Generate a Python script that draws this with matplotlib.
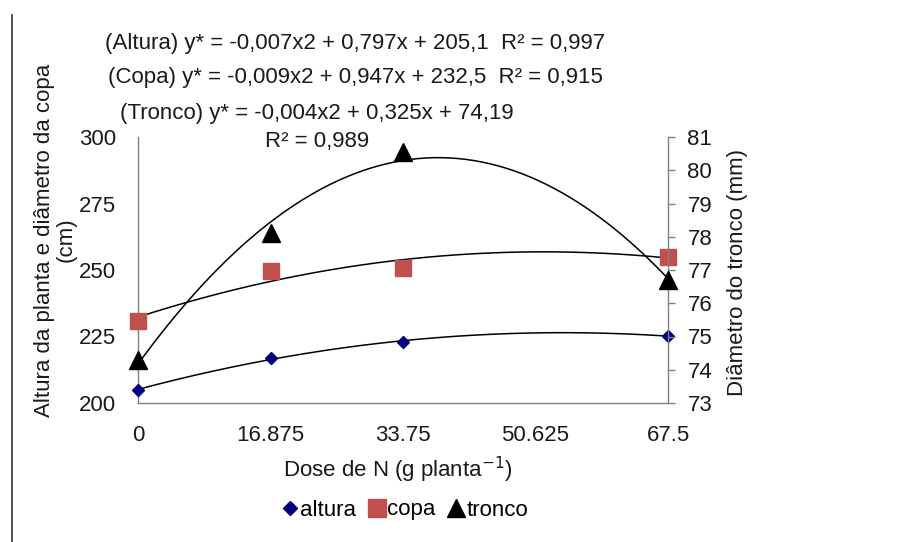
import numpy as np
import matplotlib
matplotlib.use("Agg")
import matplotlib.pyplot as plt
from matplotlib.lines import Line2D

plt.rcParams['font.family'] = ['Liberation Sans', 'DejaVu Sans']

doses = [0, 16.875, 33.75, 67.5]
xticks = [0, 16.875, 33.75, 50.625, 67.5]
xticklabels = ['0', '16.875', '33.75', '50.625', '67.5']
altura = [204.9, 216.9, 223.0, 225.2]
copa = [230.8, 249.7, 250.9, 255.0]
tronco = [74.3, 78.1, 80.55, 76.7]

eq_lines = ["(Altura) y* = -0,007x2 + 0,797x + 205,1  R² = 0,997",
            "(Copa) y* = -0,009x2 + 0,947x + 232,5  R² = 0,915",
            "(Tronco) y* = -0,004x2 + 0,325x + 74,19",
            "R² = 0,989"]

FS = 16
TC = '#1a1a1a'
W, H = 919, 542
fig = plt.figure(figsize=(W/100, H/100), dpi=100)
ax = fig.add_axes([138/W, 1-403/H, 530/W, 266/H])
ax2 = ax.twinx()

xs = np.linspace(0, 67.5, 200)
for vals in (altura, copa):
    c = np.polyfit(doses, vals, 2)
    ax.plot(xs, np.polyval(c, xs), color='black', lw=1.1, zorder=2)
c = np.polyfit(doses, tronco, 2)
ax2.plot(xs, np.polyval(c, xs), color='black', lw=1.1, zorder=2)

ax.plot(doses, altura, 'D', color='#000080', ms=6.5, mec='#000080', zorder=3, clip_on=False)
ax.plot(doses, copa, 's', color='#C0504D', ms=12, mec='#C0504D', zorder=3, clip_on=False)
ax2.plot(doses, tronco, '^', color='black', ms=13, zorder=3, clip_on=False)

ax.set_xlim(0, 67.5)
ax.set_ylim(200, 300)
ax2.set_ylim(73, 81)
ax.set_xticks(xticks)
ax.set_xticklabels(xticklabels)
ax.set_yticks([200, 225, 250, 275, 300])
ax2.set_yticks(range(73, 82))

for a in (ax, ax2):
    a.spines['top'].set_visible(False)
    for s in a.spines.values():
        s.set_color('#808080')
        s.set_linewidth(1)
ax2.spines['left'].set_visible(False)
ax2.spines['bottom'].set_visible(False)
ax.spines['right'].set_visible(False)

ax.tick_params(axis='x', length=0, labelsize=FS, pad=16, labelcolor=TC)
ax.tick_params(axis='y', length=0, labelsize=FS, pad=16, labelcolor=TC)
ax2.tick_params(axis='y', length=5, width=1, color='#808080', labelsize=FS, pad=9, labelcolor=TC)

fig.text(45/W, 1-240/H, "Altura da planta e diâmetro da copa", rotation=90,
         ha='center', va='center', fontsize=FS, color=TC)
fig.text(66/W, 1-240/H, "(cm)", rotation=90, ha='center', va='center', fontsize=FS, color=TC)
fig.text(737/W, 1-272/H, "Diâmetro do tronco (mm)", rotation=90, ha='center', va='center',
         fontsize=FS, color=TC)

fig.text(355/W, 1-43/H, eq_lines[0], ha='center', va='center', fontsize=FS, color=TC)
fig.text(355/W, 1-78/H, eq_lines[1], ha='center', va='center', fontsize=FS, color=TC)
fig.text(317/W, 1-113/H, eq_lines[2], ha='center', va='center', fontsize=FS, color=TC)
fig.text(317/W, 1-142/H, eq_lines[3], ha='center', va='center', fontsize=FS, color=TC)

fig.text(398/W, 1-470/H, "Dose de N (g planta$^{-1}$)", ha='center', va='center',
         fontsize=FS, color=TC)

handles = [Line2D([], [], marker='D', ls='', color='#000080', ms=7),
           Line2D([], [], marker='s', ls='', color='#C0504D', ms=13),
           Line2D([], [], marker='^', ls='', color='black', ms=13)]
fig.legend(handles, ['altura', 'copa', 'tronco'], loc='center', bbox_to_anchor=(405/W, 1-510/H),
           ncol=3, frameon=False, fontsize=FS, handlelength=0.7, handletextpad=0.1,
           columnspacing=0.6, borderaxespad=0)

fig.add_artist(Line2D([12/W, 12/W], [0, 1-15/H], color='#333333', lw=1.2))

fig.savefig('out.png', dpi=100, facecolor='white')
